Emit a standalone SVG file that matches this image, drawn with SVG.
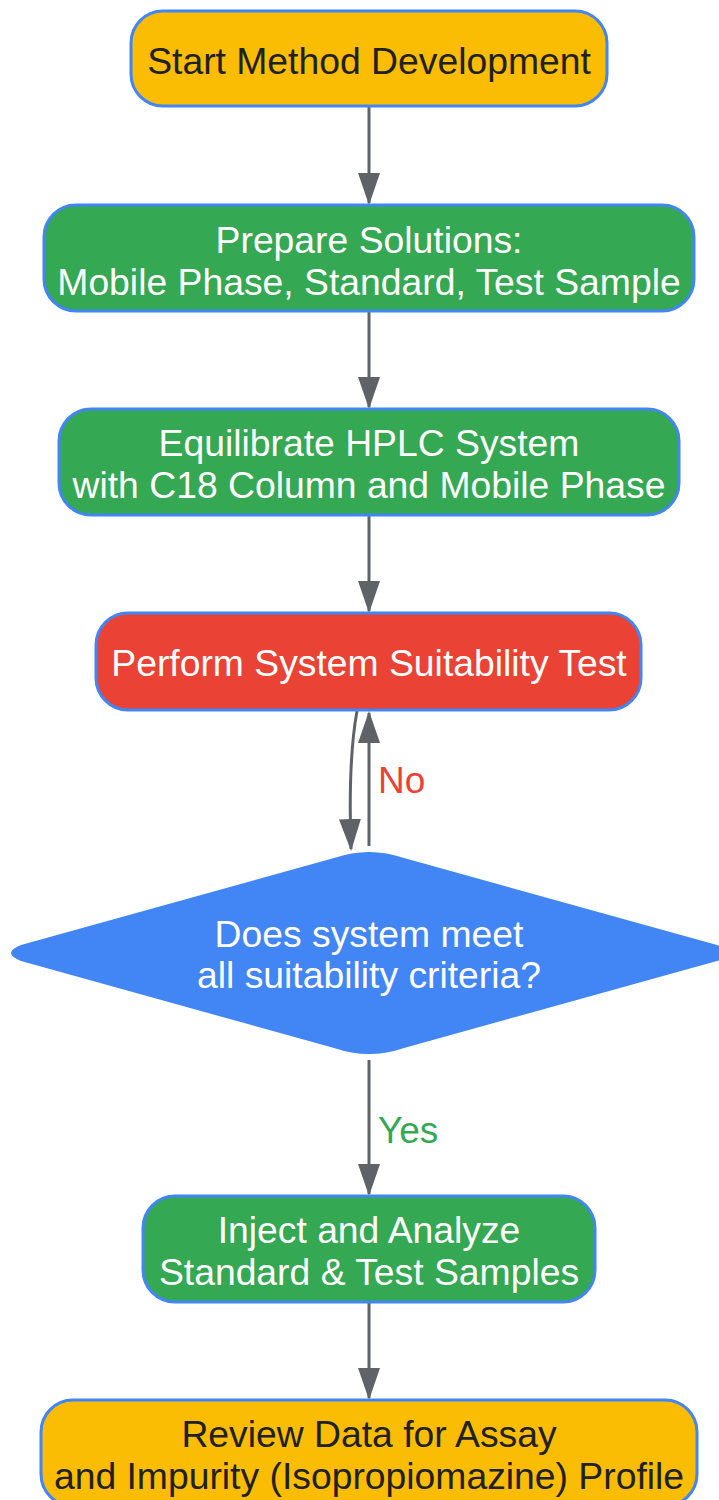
<svg xmlns="http://www.w3.org/2000/svg" width="719" height="1500" viewBox="0 0 719 1500">
<defs>
<style>
.n{stroke:#4285F4;stroke-width:3}
.y{fill:#FBBC04}
.g{fill:#34A853}
.r{fill:#EA4335}
.t{font-family:"Liberation Sans",Arial,sans-serif;font-size:37.3px;text-anchor:middle}
.w{fill:#FFFFFF}
.d{fill:#202124}
.e{stroke:#5F6368;stroke-width:3;fill:none}
.l{font-family:"Liberation Sans",Arial,sans-serif;font-size:37px}
</style>
<marker id="ah" markerWidth="32" markerHeight="22" refX="30" refY="11" viewBox="0 0 32 22" orient="auto" markerUnits="userSpaceOnUse">
<path d="M0,0 L32,11 L0,22 Z" fill="#5F6368"/>
</marker>
</defs>
<rect width="719" height="1500" fill="#FFFFFF"/>
<g id="connectors">
<path class="e" d="M369,107 L369,203" marker-end="url(#ah)"/>
<path class="e" d="M369,312 L369,407" marker-end="url(#ah)"/>
<path class="e" d="M369,516 L369,611" marker-end="url(#ah)"/>
<path class="e" d="M357,711 Q348,760 351,849" marker-end="url(#ah)"/>
<path class="e" d="M369,846 L369,713" marker-end="url(#ah)"/>
<text class="l" x="378" y="793" fill="#EA4335">No</text>
<path class="e" d="M369,1060 L369,1194" marker-end="url(#ah)"/>
<text class="l" x="378" y="1143" fill="#34A853">Yes</text>
<path class="e" d="M369,1303 L369,1398" marker-end="url(#ah)"/>
</g>
<g id="start">
<rect class="n y" x="131" y="11" width="476" height="95" rx="32"/>
<text class="t d" x="369" y="74">Start Method Development</text>
</g>
<g id="prepare">
<rect class="n g" x="44" y="205" width="650" height="106" rx="32"/>
<text class="t w" x="369" y="253">Prepare Solutions:</text>
<text class="t w" x="369" y="295">Mobile Phase, Standard, Test Sample</text>
</g>
<g id="equilibrate">
<rect class="n g" x="59" y="409" width="620" height="106" rx="32"/>
<text class="t w" x="369" y="456">Equilibrate HPLC System</text>
<text class="t w" x="369" y="498">with C18 Column and Mobile Phase</text>
</g>
<g id="sst">
<rect class="n r" x="96" y="613" width="545" height="97" rx="32"/>
<text class="t w" x="369" y="676">Perform System Suitability Test</text>
</g>
<g id="decision">
<path d="M334,858 Q369,846 404,858 L717,945 Q737,953 717,961 L404,1048 Q369,1060 334,1048 L21,961 Q1,953 21,945 Z" fill="#4285F4"/>
<text class="t w" x="369" y="947">Does system meet</text>
<text class="t w" x="369" y="988">all suitability criteria?</text>
</g>
<g id="inject">
<rect class="n g" x="143" y="1196" width="452" height="106" rx="32"/>
<text class="t w" x="369" y="1243">Inject and Analyze</text>
<text class="t w" x="369" y="1285">Standard &amp; Test Samples</text>
</g>
<g id="review">
<rect class="n y" x="41" y="1400" width="656" height="106" rx="32"/>
<text class="t d" x="369" y="1447">Review Data for Assay</text>
<text class="t d" x="369" y="1489">and Impurity (Isopropiomazine) Profile</text>
</g>
</svg>
